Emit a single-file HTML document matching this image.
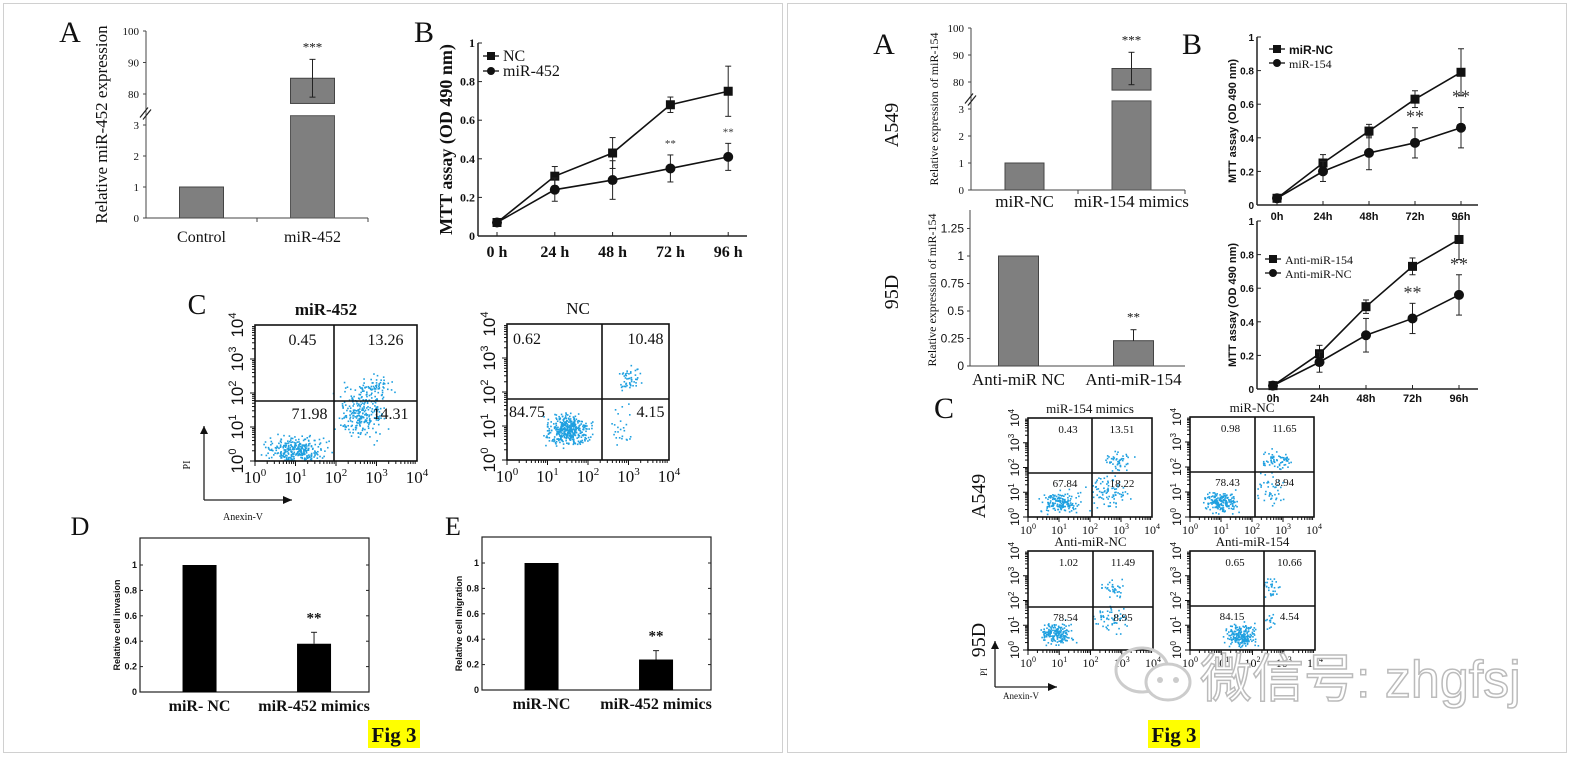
<!DOCTYPE html>
<html><head><meta charset="utf-8">
<style>
html,body{margin:0;padding:0;background:#fff;}
svg{display:block;font-family:"Liberation Serif",serif;}
</style></head>
<body>
<svg id="fig" width="1570" height="760" viewBox="0 0 1570 760" xmlns="http://www.w3.org/2000/svg">
<rect x="0" y="0" width="1570" height="760" fill="#fff"/>
<rect x="3.5" y="3.5" width="779" height="749" fill="none" stroke="#d0d0d0"/>
<rect x="787.5" y="3.5" width="779" height="749" fill="none" stroke="#d0d0d0"/>
<g id="root"></g>
</svg>
<script>
// ---------- data ----------
const barCatsA1 = ["Control","miR-452"];
const barValsA1 = [1, 85];
const barErrA1 = [0, 6];
const lineCats = ["0 h","24 h","48 h","72 h","96 h"];
const ncB1 = [0.07,0.31,0.43,0.68,0.75];
const ncErrB1 = [0.01,0.05,0.08,0.04,0.13];
const miB1 = [0.07,0.24,0.29,0.35,0.41];
const miErrB1 = [0.01,0.06,0.10,0.07,0.07];
const invCats = ["miR- NC","miR-452 mimics"];
const invVals = [1,0.38];
const invErr = [0,0.09];
const migCats = ["miR-NC","miR-452 mimics"];
const migVals = [1,0.24];
const migErr = [0,0.07];
const barCatsA549 = ["miR-NC","miR-154 mimics"];
const barValsA549 = [1,85];
const barErrA549 = [0,6];
const barCats95D = ["Anti-miR NC","Anti-miR-154"];
const barVals95D = [1,0.23];
const barErr95D = [0,0.10];
const lineCats2 = ["0h","24h","48h","72h","96h"];
const ncB2 = [0.04,0.25,0.44,0.63,0.79];
const ncErrB2 = [0.02,0.05,0.04,0.05,0.14];
const miB2 = [0.04,0.20,0.31,0.37,0.46];
const miErrB2 = [0.02,0.06,0.10,0.09,0.12];
const antiB3 = [0.02,0.21,0.49,0.73,0.89];
const antiErrB3 = [0.02,0.05,0.04,0.05,0.12];
const antiNcB3 = [0.02,0.16,0.32,0.42,0.56];
const antiNcErrB3 = [0.02,0.06,0.10,0.09,0.12];

const NS="http://www.w3.org/2000/svg";
const root=document.getElementById('root');
function el(tag,attrs,parent){const e=document.createElementNS(NS,tag);for(const k in attrs)e.setAttribute(k,attrs[k]);(parent||root).appendChild(e);return e;}
function txt(x,y,s,o,parent){o=o||{};const e=el('text',{x:x,y:y,'font-size':o.fs||14,'text-anchor':o.a||'middle','font-weight':o.w||'normal',fill:o.c||'#111'},parent);if(o.f)e.setAttribute('font-family',o.f);if(o.rot)e.setAttribute('transform','rotate(-90 '+x+' '+y+')');e.textContent=s;return e;}
function line(x1,y1,x2,y2,w,parent,c){return el('line',{x1:x1,y1:y1,x2:x2,y2:y2,stroke:c||'#222','stroke-width':w||1},parent);}
const SANS='"Liberation Sans",sans-serif';

[["A",70,42,30],["B",424,42,30],["C",197,314,28],["D",80,535,26],["E",453,535,26],["A",884,54,30],["B",1192,54,30],["C",944,418,30]].forEach(p=>{
 const t=txt(p[1],p[2],p[0],{fs:p[3]});
 
 
});

function brokenBar(cfg){
 const g=el('g',{});
 
 
 const ax=cfg.ax, yLow=v=>cfg.y0-(cfg.y0-cfg.y3)*v/3, yHigh=v=>cfg.y80-(cfg.y80-cfg.y100)*(v-80)/20;
 line(ax,cfg.y100,ax,cfg.y0,1,g,'#444');
 line(ax,cfg.y0,cfg.xe,cfg.y0,1,g,'#444');
 [[0,yLow(0)],[1,yLow(1)],[2,yLow(2)],[3,yLow(3)],[80,yHigh(80)],[90,yHigh(90)],[100,yHigh(100)]].forEach(t=>{
  line(ax-3,t[1],ax,t[1],1,g,'#444');
  txt(ax-7,t[1]+4,String(t[0]),{fs:11,a:'end'},g);
 });
 const bw=cfg.bw, cx=i=>ax+cfg.gap*(i+0.5);
 line(ax+cfg.gap,cfg.y0,ax+cfg.gap,cfg.y0+4,1,g,'#444');
 line(cfg.xe,cfg.y0,cfg.xe,cfg.y0+4,1,g,'#444');
 const by=(yHigh(80)+yLow(3))/2+4;
 line(ax-6,by+4,ax+2,by-6,1.2,g);line(ax-3,by+6,ax+5,by-4,1.2,g);
 cfg.vals.forEach((v,i)=>{
  const x=cx(i)-bw/2;
  let r;
  if(v<=3){r=el('rect',{x:x,y:yLow(v),width:bw,height:cfg.y0-yLow(v),fill:'#7f7f7f',stroke:'#444'},g);}
  else{
   r=el('rect',{x:x,y:yLow(3.3),width:bw,height:cfg.y0-yLow(3.3),fill:'#7f7f7f',stroke:'#555'},g);
   const r2=el('rect',{x:x,y:yHigh(v),width:bw,height:yHigh(77)-yHigh(v),fill:'#7f7f7f',stroke:'#444'},g);
   
   
   const e=cfg.err[i];
   line(cx(i),yHigh(v+e),cx(i),yHigh(v-e),1,g);
   line(cx(i)-3,yHigh(v+e),cx(i)+3,yHigh(v+e),1,g);line(cx(i)-3,yHigh(v-e),cx(i)+3,yHigh(v-e),1,g);
   txt(cx(i),yHigh(v+e)-8,'***',{fs:13},g);
  }
  
  
  txt(cx(i),cfg.labY,cfg.cats[i],{fs:cfg.labFs},g);
 });
 txt(cfg.titleX,(cfg.y100+cfg.y0)/2,cfg.title,{fs:cfg.titleFs,rot:1},g);
}
brokenBar({name:'panel-a-left-expression-chart',ax:146,xe:368,gap:111,bw:44,y0:218,y3:125,y80:94,y100:31,vals:barValsA1,err:barErrA1,cats:barCatsA1,labY:242,labFs:16,title:'Relative miR-452 expression',titleX:107,titleFs:17});
brokenBar({name:'panel-a-right-a549-chart',ax:971,xe:1185,gap:107,bw:39,y0:190,y3:109,y80:82,y100:28,vals:barValsA549,err:barErrA549,cats:barCatsA549,labY:207,labFs:17,title:'Relative expression of miR-154',titleX:938,titleFs:12});

(function(){
 const g=el('g',{});
 
 
 const ax=970,y0=366,y1=256,xe=1185,yS=v=>y0-(y0-y1)*v;
 line(ax,210,ax,y0,1,g,'#444');line(ax,y0,xe,y0,1,g,'#444');
 ["0","0.25","0.5","0.75","1","1.25"].forEach((s,i)=>{const y=yS(i*0.25);line(ax-3,y,ax,y,1,g,'#444');txt(ax-6,y+4,s,{fs:12,a:'end',f:SANS},g);});
 barVals95D.forEach((v,i)=>{const cx=ax+107*(i+0.5)+(i?3:-5);
  const r=el('rect',{x:cx-20,y:yS(v),width:40,height:y0-yS(v),fill:'#7f7f7f',stroke:'#444'},g);
  
  
  if(barErr95D[i]>0){line(cx,yS(v+barErr95D[i]),cx,yS(v),1,g);line(cx-3,yS(v+barErr95D[i]),cx+3,yS(v+barErr95D[i]),1,g);txt(cx,yS(v+barErr95D[i])-8,'**',{fs:13},g);}
  txt(cx,385,barCats95D[i],{fs:17},g);
 });
 txt(936,290,'Relative expression of miR-154',{fs:12,rot:1},g);
})();
[['A549',898,125],['95D',898,292],['A549',985,496],['95D',985,640]].forEach(s=>{const t=txt(s[1],s[2],s[0],{fs:20,rot:1});});

function lineChart(cfg){
 const g=el('g',{});
 
 
 const yS=v=>cfg.y0-(cfg.y0-cfg.y1)*v, xS=i=>cfg.x0+cfg.step*i;
 line(cfg.ax,cfg.y1,cfg.ax,cfg.y0,1.5,g);line(cfg.ax,cfg.y0,cfg.xe,cfg.y0,1.5,g);
 [0,0.2,0.4,0.6,0.8,1].forEach(v=>{line(cfg.ax,yS(v),cfg.ax+4,yS(v),1,g);txt(cfg.ax-3,yS(v)+4,String(v),{fs:cfg.tfs,a:'end',w:'bold',f:cfg.tf},g);});
 cfg.cats.forEach((c,i)=>{line(xS(i),cfg.y0,xS(i),cfg.y0-4,1,g);txt(xS(i),cfg.y0+cfg.cdy,c,{fs:cfg.cfs,w:'bold',f:cfg.tf},g);});
 cfg.series.forEach((s,si)=>{
  const pts=s.v.map((v,i)=>xS(i)+','+yS(v)).join(' ');
  const pl=el('polyline',{points:pts,fill:'none',stroke:'#111','stroke-width':1.6},g);
  
  
  s.v.forEach((v,i)=>{const x=xS(i),e=s.e[i];
   line(x,yS(v+e),x,yS(v-e),1,g);line(x-3,yS(v+e),x+3,yS(v+e),1,g);line(x-3,yS(v-e),x+3,yS(v-e),1,g);
   let m;
   if(s.m==='sq')m=el('rect',{x:x-4.5,y:yS(v)-4.5,width:9,height:9,fill:'#111'},g);
   else m=el('circle',{cx:x,cy:yS(v),r:5,fill:'#111'},g);
   
   
  });
  const ly=cfg.legY+si*cfg.legDy;
  line(cfg.legX-8,ly,cfg.legX+8,ly,1.4,g);
  if(s.m==='sq')el('rect',{x:cfg.legX-4,y:ly-4,width:8,height:8,fill:'#111'},g);else el('circle',{cx:cfg.legX,cy:ly,r:4,fill:'#111'},g);
  const lt=txt(cfg.legX+12,ly+5,s.label,{fs:cfg.lfs,a:'start',w:s.lw||'normal',f:s.lf},g);
  
  
 });
 cfg.stars.forEach(i=>{const s=cfg.series[1];txt(xS(i),yS(s.v[i]+s.e[i])-cfg.starDy,'**',{fs:cfg.starFs,c:'#333'},g);});
 txt(cfg.titleX,(cfg.y1+cfg.y0)/2,'MTT assay (OD 490 nm)',{fs:cfg.titleFs,w:'bold',rot:1,f:cfg.tf},g);
}
lineChart({name:'panel-b-left-mtt-chart',ax:478,xe:747,x0:497,step:57.8,y0:236,y1:43,cats:lineCats,cfs:16,cdy:21,tfs:12,
 series:[{key:'nc',label:'NC',v:ncB1,e:ncErrB1,m:'sq'},{key:'mir452',label:'miR-452',v:miB1,e:miErrB1,m:'ci'}],
 legX:491,legY:56,legDy:15,lfs:16,stars:[3,4],starDy:8,starFs:11,titleX:452,titleFs:18});
lineChart({name:'panel-b-right-mtt-a549-chart',ax:1257,xe:1478,x0:1277,step:46,y0:205,y1:37,cats:lineCats2,cfs:11,cdy:15,tfs:10,tf:SANS,
 series:[{key:'mir-nc',label:'miR-NC',v:ncB2,e:ncErrB2,m:'sq',lw:'bold',lf:SANS},{key:'mir154',label:'miR-154',v:miB2,e:miErrB2,m:'ci'}],
 legX:1277,legY:49,legDy:14,lfs:12,stars:[3,4],starDy:5,starFs:18,titleX:1236,titleFs:11});
lineChart({name:'panel-b-right-mtt-95d-chart',ax:1257,xe:1478,x0:1273,step:46.5,y0:389,y1:221,cats:lineCats2,cfs:11,cdy:13,tfs:10,tf:SANS,
 series:[{key:'anti-mir154',label:'Anti-miR-154',v:antiB3,e:antiErrB3,m:'sq'},{key:'anti-mir-nc',label:'Anti-miR-NC',v:antiNcB3,e:antiNcErrB3,m:'ci'}],
 legX:1273,legY:259,legDy:14,lfs:12,stars:[3,4],starDy:5,starFs:18,titleX:1236,titleFs:11});

function boxBar(cfg){
 const g=el('g',{});
 
 
 const yS=v=>cfg.y0-(cfg.y0-cfg.y1)*v;
 el('rect',{x:cfg.x,y:cfg.top,width:cfg.w,height:cfg.y0-cfg.top,fill:'none',stroke:'#222','stroke-width':1.2},g);
 [0,0.2,0.4,0.6,0.8,1].forEach(v=>{line(cfg.x,yS(v),cfg.x+3,yS(v),1,g);line(cfg.x+cfg.w-3,yS(v),cfg.x+cfg.w,yS(v),1,g);txt(cfg.x-3,yS(v)+3,String(v),{fs:9,a:'end',w:'bold',f:SANS},g);});
 cfg.vals.forEach((v,i)=>{const cx=cfg.x+cfg.w*(i===0?0.26:0.76);
  const r=el('rect',{x:cx-17,y:yS(v),width:34,height:cfg.y0-yS(v),fill:'#000'},g);
  
  
  if(cfg.err[i]>0){line(cx,yS(v+cfg.err[i]),cx,yS(v),1,g);line(cx-3,yS(v+cfg.err[i]),cx+3,yS(v+cfg.err[i]),1,g);txt(cx,yS(v+cfg.err[i])-10,'**',{fs:15,w:'bold'},g);}
  txt(cx,cfg.y0+19,cfg.cats[i],{fs:16,w:'bold'},g);
 });
 txt(cfg.x-20,(cfg.top+cfg.y0)/2+10,cfg.title,{fs:9,w:'bold',rot:1,f:SANS},g);
}
boxBar({name:'panel-d-invasion-chart',x:140,w:229,top:538,y0:692,y1:565,vals:invVals,err:invErr,cats:invCats,title:'Relative cell invasion'});
boxBar({name:'panel-e-migration-chart',x:482,w:229,top:537,y0:690,y1:563,vals:migVals,err:migErr,cats:migCats,title:'Relative cell migration'});

const flowTitles = ["miR-452","NC","miR-154 mimics","miR-NC","Anti-miR-NC","Anti-miR-154"];
const flowQuadLL = ["71.98","84.75","67.84","78.43","78.54","84.15"];
const flowQuadLR = ["14.31","4.15","18.22","8.94","8.95","4.54"];
const flowQuadUL = ["0.45","0.62","0.43","0.98","1.02","0.65"];
const flowQuadUR = ["13.26","10.48","13.51","11.65","11.49","10.66"];
const flowClusters = [
 [[1.0,0.3,0.55,0.35,340],[2.6,1.4,0.45,0.6,260],[3.0,2.2,0.3,0.25,60]],
 [[1.5,0.9,0.4,0.35,420],[3.0,2.5,0.2,0.3,50],[2.8,1.2,0.25,0.6,25]],
 [[1.0,0.6,0.45,0.35,240],[2.6,1.0,0.55,0.5,120],[2.9,2.3,0.35,0.3,70]],
 [[1.0,0.6,0.4,0.35,260],[2.6,1.2,0.4,0.6,60],[2.8,2.3,0.4,0.3,90]],
 [[0.9,0.7,0.4,0.35,260],[2.6,1.3,0.45,0.45,80],[2.7,2.5,0.35,0.35,50]],
 [[1.6,0.6,0.35,0.35,300],[2.6,2.5,0.2,0.35,45],[2.5,1.3,0.15,0.4,20]]
];
const flowBoxes=[[255,325,162,136,334,401],[507,324,162,136,602,399],[1028,418,124,99,1092,473],[1190,417,124,100,1255,472],[1028,551,125,99,1093,607],[1190,551,125,99,1264,606]];
let seed=12345;function rnd(){seed=(seed*1103515245+12345)%2147483648;return seed/2147483648;}
function gauss(){return (rnd()+rnd()+rnd()-1.5)*1.2;}
flowTitles.forEach((t,k)=>{
 const b=flowBoxes[k],big=k<2,g=el('g',{});
 
 
 const [x,y,w,h,dx,dy]=b,xS=d=>x+w*d/4,yS=d=>y+h-h*d/4;
 flowClusters[k].forEach(c=>{for(let n=0;n<c[4]*(big?1:0.7);n++){const px=c[0]+gauss()*c[2],py=c[1]+gauss()*c[3];if(px<0.05||px>3.95||py<0.02||py>3.95)continue;el('rect',{x:xS(px),y:yS(py),width:1.6,height:1.6,fill:'#1fa0e0'},g);}});
 el('rect',{x:x,y:y,width:w,height:h,fill:'none',stroke:'#111','stroke-width':1.6},g);
 line(dx,y,dx,y+h,1.6,g,'#111');line(x,dy,x+w,dy,1.6,g,'#111');
 for(let d=0;d<4;d++)for(let m=1;m<10;m++){const o=Math.log10(m)+d;line(xS(o),y+h,xS(o),y+h+(m===1?5:3),1,g,'#111');line(x,yS(o),x-(m===1?5:3),yS(o),1,g,'#111');}
 const fs=big?17:12,efs=big?11:8;
 for(let d=0;d<=4;d++){
  const tx=el('text',{x:xS(d),y:y+h+(big?22:17),'font-size':fs,'text-anchor':'middle',fill:'#111'},g);
  tx.innerHTML='10<tspan dy="-'+(big?7:5)+'" font-size="'+efs+'">'+d+'</tspan>';
  const lx=x-(big?12:9),ly=yS(d);
  const ty=el('text',{x:lx,y:ly,'font-size':fs,'text-anchor':'middle',fill:'#111',transform:'rotate(-90 '+lx+' '+ly+')','font-family':SANS},g);
  ty.innerHTML='10<tspan dy="-'+(big?7:5)+'" font-size="'+efs+'">'+d+'</tspan>';
 }
 const qfs=big?16:11;
 txt(k===1?x+20:(x+dx)/2+8,y+(big?20:15),flowQuadUL[k],{fs:qfs},g);
 txt((dx+x+w)/2+(big?10:0),y+(big?20:15),flowQuadUR[k],{fs:qfs},g);
 txt(k===1?x+20:(x+dx)/2+(big?15:5),dy+(big?18:14),flowQuadLL[k],{fs:qfs},g);
 txt((dx+x+w)/2+(big?15:0),dy+(big?18:14),flowQuadLR[k],{fs:qfs},g);
 txt(x+w/2-(big?10:0),y-(big?10:5),t,{fs:big?17:13,w:big&&k===0?'bold':'normal'},g);
});
function arrows(x0,y0,len1,len2,fs,ax,ay,px,py,name){
 const g=el('g',{});
 
 
 line(x0,y0,x0,y0-len1,1.3,g);line(x0,y0,x0+len2,y0,1.3,g);
 el('polygon',{points:(x0-4)+','+(y0-len1+8)+' '+x0+','+(y0-len1)+' '+(x0+4)+','+(y0-len1+8),fill:'#111'},g);
 el('polygon',{points:(x0+len2-9)+','+(y0-4)+' '+(x0+len2)+','+y0+' '+(x0+len2-9)+','+(y0+4),fill:'#111'},g);
 txt(px,py,'PI',{fs:fs,rot:1},g);txt(ax,ay,'Anexin-V',{fs:fs},g);
}
arrows(204,500,74,88,10,243,520,190,465,'axis-arrows-left');
arrows(995,687,46,62,9,1021,699,987,672,'axis-arrows-right');

[[368,720,'fig-caption-left'],[1148,720,'fig-caption-right']].forEach(f=>{
 const r=el('rect',{x:f[0],y:f[1],width:52,height:28,fill:'#ffff00'});
 
 
 const t=txt(f[0]+26,f[1]+22,'Fig 3',{fs:21,w:'bold'});
 
 
});

(function(){
 const g=el('g',{});
 
 
 el('ellipse',{cx:1142,cy:670,rx:26,ry:22,fill:'none',stroke:'#ccc','stroke-width':3},g);
 el('ellipse',{cx:1168,cy:682,rx:22,ry:18,fill:'#fff',stroke:'#ccc','stroke-width':3},g);
 el('circle',{cx:1160,cy:680,r:3,fill:'#ccc'},g);el('circle',{cx:1176,cy:680,r:3,fill:'#ccc'},g);
 const t=txt(1200,697,'微信号: zhgfsj',{fs:52,a:'start',c:'#fff',f:'"Liberation Sans","Noto Sans CJK SC",sans-serif'},g);
 t.setAttribute('stroke','#bbb');t.setAttribute('stroke-width','1.5');
})();
</script>
</body></html>
